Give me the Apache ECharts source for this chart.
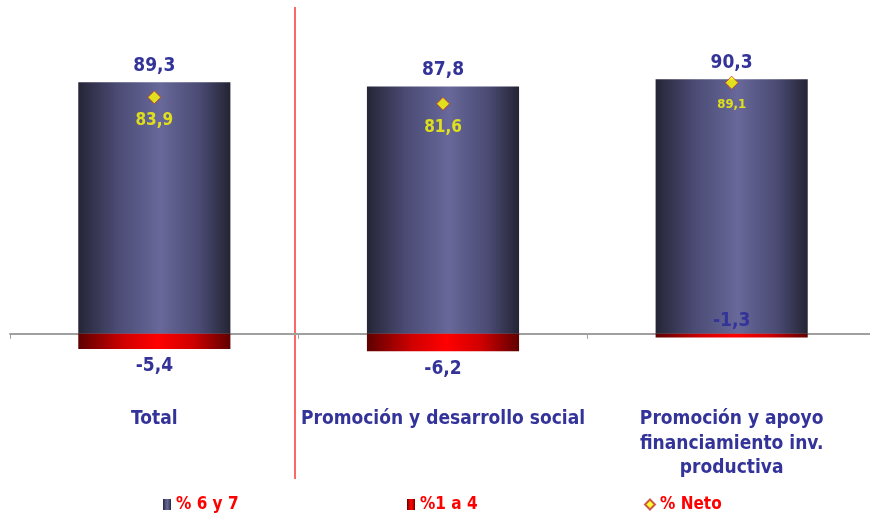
<!DOCTYPE html>
<html><head><meta charset="utf-8">
<script src="https://cdn.jsdelivr.net/npm/echarts@6/dist/echarts.min.js"></script>
<style>html,body{margin:0;padding:0;background:#fff;overflow:hidden}#c{width:876px;height:516px}</style>
</head><body><div id="c"></div>
<script>
const categories = ['Total', 'Promoción y desarrollo social', 'Promoción y apoyo\nfinanciamiento inv.\nproductiva'];
const pct67 = [89.3, 87.8, 90.3];
const pct14 = [-5.4, -6.2, -1.3];
const pctNeto = [83.9, 81.6, 89.1];
const seriesNames = ['% 6 y 7', '%1 a 4', '% Neto'];

const fmt = v => String(v.toFixed(1)).replace('.', ',');
const FONT = '"DejaVu Sans Condensed", "DejaVu Sans", sans-serif';
const navy = '#333399';

const blueGrad = new echarts.graphic.LinearGradient(0, 0, 1, 0, [
  {offset: 0, color: '#252537'}, {offset: 0.25, color: '#4a4a73'},
  {offset: 0.54, color: '#68689a'}, {offset: 0.8, color: '#4a4a73'}, {offset: 1, color: '#242434'}]);
const redGrad = new echarts.graphic.LinearGradient(0, 0, 1, 0, [
  {offset: 0, color: '#5e0000'}, {offset: 0.3, color: '#d00000'},
  {offset: 0.52, color: '#ff0000'}, {offset: 0.75, color: '#d00000'}, {offset: 1, color: '#600000'}]);

const chart = echarts.init(document.getElementById('c'));
const legendText = {color: '#ff0000', fontFamily: FONT, fontWeight: 'bold', fontSize: 17};
chart.setOption({
  animation: false,
  grid: {left: 10, right: 0, top: 52, bottom: 154, containLabel: false},
  legend: [
    {data: [{name: seriesNames[0], icon: 'rect'}], left: 158, top: 491, itemWidth: 8, itemHeight: 11, textStyle: legendText},
    {data: [{name: seriesNames[1], icon: 'rect'}], left: 402, top: 491, itemWidth: 8, itemHeight: 11, textStyle: legendText},
    {data: [seriesNames[2]], left: 639, top: 491, itemWidth: 10, itemHeight: 10, textStyle: legendText}
  ],
  xAxis: {
    type: 'category', data: categories,
    axisLine: {onZero: true, lineStyle: {color: '#a0a0a0', width: 2}},
    axisTick: {show: true, length: 5, lineStyle: {color: '#a0a0a0'}},
    axisLabel: {margin: 45, color: navy, fontFamily: FONT, fontWeight: 'bold', fontSize: 19, lineHeight: 24.5, verticalAlign: 'top', interval: 0}
  },
  yAxis: {type: 'value', min: -10, max: 100, show: false, splitLine: {show: false}},
  graphic: [{type: 'line', shape: {x1: 295, y1: 7, x2: 295, y2: 479}, style: {stroke: '#ff6666', lineWidth: 2}}],
  series: [
    {name: seriesNames[0], type: 'bar', stack: 's', barWidth: '52.7%', data: pct67,
      itemStyle: {color: blueGrad},
      label: {show: true, position: 'top', distance: 7, color: navy, fontFamily: FONT, fontWeight: 'bold', fontSize: 19, formatter: p => fmt(p.value)}},
    {name: seriesNames[1], type: 'bar', stack: 's', barWidth: '52.7%',
      data: pct14.map((v, i) => ({value: v, label: i === 2 ? {position: 'top', distance: 3} : {position: 'bottom', distance: 8}})),
      itemStyle: {color: redGrad},
      label: {show: true, color: navy, fontFamily: FONT, fontWeight: 'bold', fontSize: 19, formatter: p => fmt(p.value)}},
    {name: seriesNames[2], type: 'scatter', symbol: 'diamond', symbolSize: 13,
      data: pctNeto.map((v, i) => ({value: v, label: i === 2 ? {fontSize: 13, distance: 8} : {}})),
      itemStyle: {color: '#ffff00', borderColor: '#c03030', borderWidth: 1},
      label: {show: true, position: 'bottom', distance: 8, color: '#ffff00', fontFamily: FONT, fontWeight: 'bold', fontSize: 17, formatter: p => fmt(p.value)},
      z: 5}
  ]
});
</script></body></html>
